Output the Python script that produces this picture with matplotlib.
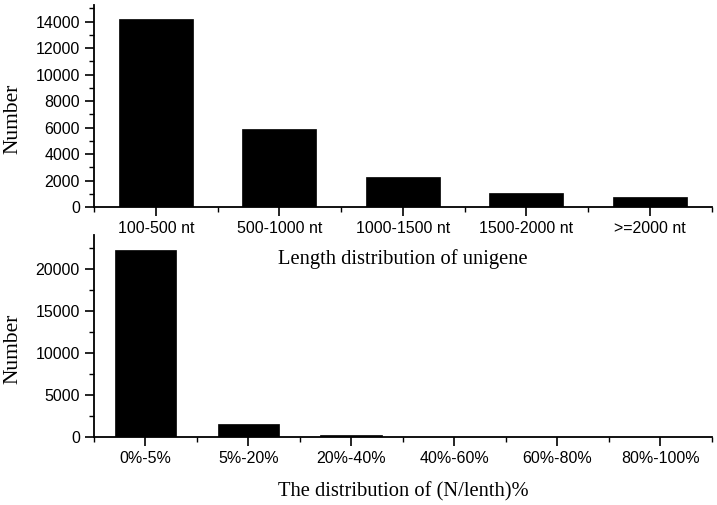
import matplotlib
matplotlib.use("Agg")
import matplotlib.pyplot as plt
from matplotlib.ticker import MultipleLocator, FixedLocator

# Data
len_categories = ["100-500 nt", "500-1000 nt", "1000-1500 nt", "1500-2000 nt", ">=2000 nt"]
len_values = [14170, 5860, 2290, 1030, 730]

n_categories = ["0%-5%", "5%-20%", "20%-40%", "40%-60%", "60%-80%", "80%-100%"]
n_values = [22280, 1510, 200, 20, 5, 2]

top_xlabel = "Length distribution of unigene"
bottom_xlabel = "The distribution of (N/lenth)%"
ylabel = "Number"

tick_font = "Liberation Sans"
label_font = "Liberation Serif"

fig = plt.figure(figsize=(7.17, 5.05), dpi=100)
W, H = 717, 505

def make_axes(left, right, top, bottom):
    return fig.add_axes([left / W, 1 - bottom / H, (right - left) / W, (bottom - top) / H])

ax1 = make_axes(94, 711.7, 5, 207)
ax2 = make_axes(94, 711.7, 235, 436.7)
ax2.patch.set_visible(False)
ax1.set_zorder(2)

def style(ax, cats, vals, ymax, major, minor, xlabel, xl_y):
    x = list(range(1, len(cats) + 1))
    ax.bar(x, vals, width=0.6, color="black", edgecolor="black", linewidth=0.5)
    ax.set_xlim(0.5, len(cats) + 0.5)
    ax.set_ylim(0, ymax)
    ax.spines["top"].set_visible(False)
    ax.spines["right"].set_visible(False)
    for s in ("left", "bottom"):
        ax.spines[s].set_linewidth(1.3)
    ax.set_xticks(x)
    ax.set_xticklabels(cats, fontfamily=tick_font, fontsize=11.5)
    ax.xaxis.set_minor_locator(FixedLocator([i + 0.5 for i in range(0, len(cats) + 1)]))
    ax.yaxis.set_major_locator(MultipleLocator(major))
    ax.yaxis.set_minor_locator(MultipleLocator(minor))
    for lab in ax.get_yticklabels():
        lab.set_fontfamily(tick_font)
        lab.set_fontsize(11.5)
    ax.tick_params(which="major", direction="out", length=6.7, width=1.2, pad=3.5)
    ax.tick_params(which="minor", direction="out", length=3.3, width=1.0)
    ax.set_xlabel(xlabel, fontfamily=label_font, fontsize=14.8)
    ax.xaxis.label.set_va("center")
    ax.xaxis.set_label_coords(0.5, xl_y)
    ax.set_ylabel(ylabel, fontfamily=label_font, fontsize=15.5)
    ax.yaxis.label.set_va("center")
    ax.yaxis.set_label_coords(-0.131, 0.437)

style(ax1, len_categories, len_values, 15250, 2000, 1000, top_xlabel, -52 / 202)
style(ax2, n_categories, n_values, 24070, 5000, 2500, bottom_xlabel, -55 / 201.7)

fig.savefig("out.png", dpi=100)
